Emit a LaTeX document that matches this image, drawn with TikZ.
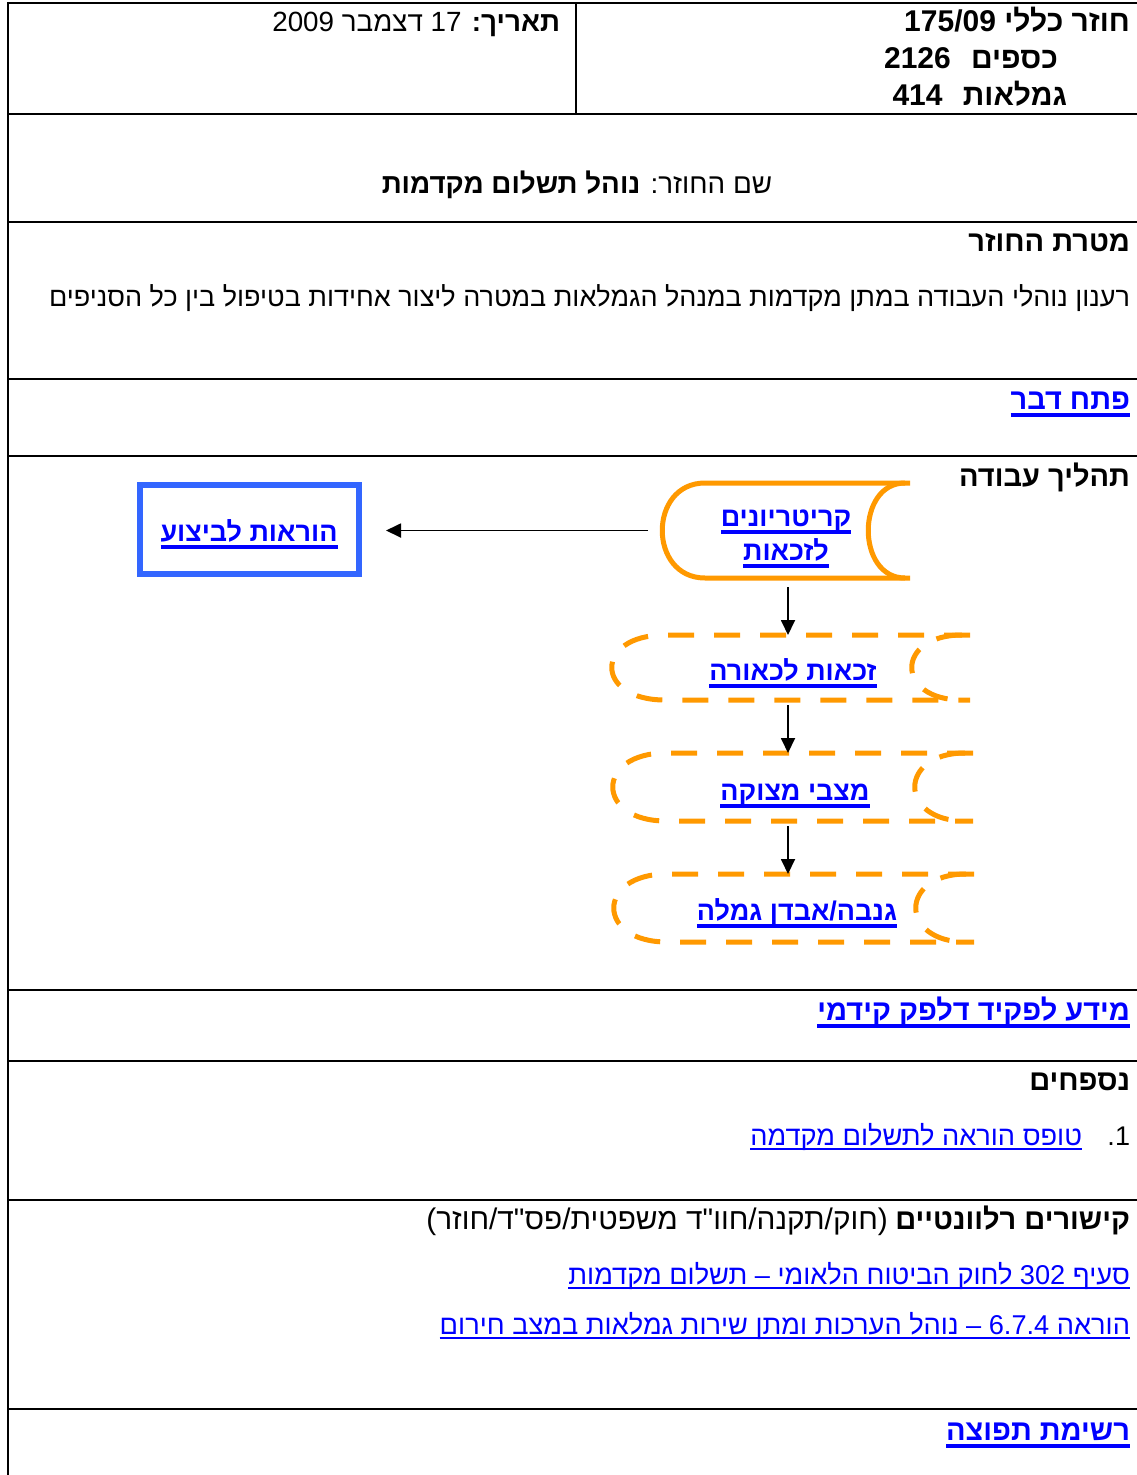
\documentclass[tikz,border=0pt]{standalone}
\usepackage{fontspec}
\setmainfont{Liberation Sans}[Script=Hebrew, Ligatures=TeXOff]
\TeXXeTstate=1
\usetikzlibrary{arrows.meta,calc}
\definecolor{linkblue}{HTML}{0000FF}
\definecolor{flowor}{HTML}{FF9900}
\definecolor{boxblue}{HTML}{3366FF}
% #1 thickness, #2 bottom of rule below baseline, #3 text
\newcommand\ulk[3]{\setbox0=\hbox{#3}\rlap{\rule[-#2]{\wd0}{#1}}\box0}
% #1 node, #2 style, #3 left inset, #4 left ctrl x, #5 right inset, #6 right ctrl x
\newcommand\drawstored[6]{%
  \draw[#2] (#1.north east) -- ($(#1.north west)+(#3,0)$) .. controls ($(#1.north west)+(#4,0)$) and ($(#1.south west)+(#4,0)$) .. ($(#1.south west)+(#3,0)$) -- (#1.south east);
  \draw[#2] ($(#1.north east)+(-#5,0)$) .. controls ($(#1.north east)+(-#6,0)$) and ($(#1.south east)+(-#6,0)$) .. ($(#1.south east)+(-#5,0)$);}
\newcommand\bsz{\fontsize{29}{34}\selectfont\bfseries}
\tikzset{
  tline/.style={line width=2.5pt, black},
  thinline/.style={line width=1.5pt, black},
  tx/.style={inner sep=0pt, outer sep=0pt, font=\fontsize{27}{32}\selectfont},
  tx28/.style={inner sep=0pt, outer sep=0pt, font=\fontsize{27.8}{32}\selectfont},
  txb/.style={tx, font=\bsz},
  hd/.style={tx, font=\fontsize{30}{34}\selectfont\bfseries},
  lk/.style={tx, font=\fontsize{27.2}{32}\selectfont, text=linkblue},
  lkb/.style={txb, text=linkblue},
  flk/.style={tx, font=\fontsize{27}{32}\selectfont\bfseries, text=linkblue},
  shapebox/.style={inner sep=0pt, outer sep=0pt, draw=none},
  solidflow/.style={draw=flowor, line width=5pt},
  dashflow/.style={draw=flowor, line width=5pt, dash pattern=on 26pt off 20pt},
  bluebox/.style={draw=boxblue, line width=6pt, inner sep=0pt},
  arr/.style={-{Triangle[length=15pt,width=14pt]}, line width=1.8pt, black},
}
\begin{document}
\begin{tikzpicture}[x=1pt,y=-1pt]
\useasboundingbox (0,0) rectangle (1137,1475);
\fill[white] (0,0) rectangle (1137,1475);
% table
\foreach \yy in {3,114,222,379,456,990,1061,1200,1409} \draw[tline] (8,\yy) -- (1137,\yy);
\draw[tline] (8,1.75) -- (8,1475);
\draw[thinline] (576,3) -- (576,114);
% header
\node[hd, anchor=base east] (hdr1) at (1130,31) {\beginR חוזר כללי 175/09\endR};
\node[hd, anchor=base east] (hdr2) at (1058,68) {\beginR כספים\hspace{12pt} 2126\endR};
\node[hd, anchor=base east] (hdr3) at (1067,105) {\beginR גמלאות\hspace{12pt} 414\endR};
\node[tx28, anchor=base east] (date) at (560,31) {\beginR{\bfseries תאריך:} 17 דצמבר 2009\endR};
\node[tx28, anchor=base] (title) at (577,193) {\beginR שם החוזר: {\bfseries נוהל תשלום מקדמות}\endR};
% sections
\node[txb, anchor=base east] (goalh) at (1130,251) {\beginR מטרת החוזר\endR};
\node[tx, anchor=base east] (goal) at (1130,306) {\beginR רענון נוהלי העבודה במתן מקדמות במנהל הגמלאות במטרה ליצור אחידות בטיפול בין כל הסניפים\endR};
\node[lkb, anchor=base east] (intro) at (1130,409) {\ulk{3.5pt}{7.5pt}{\beginR פתח דבר\endR}};
\node[txb, anchor=base east] (proch) at (1130,486) {\beginR תהליך עבודה\endR};
% flow chart
\node[shapebox, minimum width=248pt, minimum height=95pt] (crit) at (786,530.5) {};
\node[shapebox, minimum width=358pt, minimum height=65pt] (zl) at (791,667.5) {};
\node[shapebox, minimum width=360pt, minimum height=68pt] (sm) at (793,787) {};
\node[shapebox, minimum width=360pt, minimum height=68pt] (gn) at (794,908) {};
\node[bluebox, minimum width=219pt, minimum height=89pt] (hb) at (249.5,529.5) {};
\drawstored{crit}{solidflow}{43}{-14}{5}{54}
\drawstored{zl}{dashflow}{53}{-18}{8}{75}
\drawstored{sm}{dashflow}{53}{-18}{8}{75}
\drawstored{gn}{dashflow}{53}{-18}{8}{75}
\node[flk, anchor=base] (critt1) at (786,526) {\ulk{3.5pt}{7.5pt}{\beginR קריטריונים\endR}};
\node[flk, anchor=base] (critt2) at (786,560) {\ulk{3.5pt}{7.5pt}{\beginR לזכאות\endR}};
\node[flk, anchor=base] (zlt) at (793,680) {\ulk{3.5pt}{7.5pt}{\beginR זכאות לכאורה\endR}};
\node[flk, anchor=base] (smt) at (795,800) {\ulk{3.5pt}{7.5pt}{\beginR מצבי מצוקה\endR}};
\node[flk, anchor=base] (gnt) at (797,920) {\ulk{3.5pt}{7.5pt}{\beginR גנבה/אבדן גמלה\endR}};
\node[flk, anchor=base] (hbt) at (249,541) {\ulk{3.5pt}{7.5pt}{\beginR הוראות לביצוע\endR}};
\coordinate (hbtip) at ([xshift=24pt]hb.east);
\draw[arr] ([xshift=-14pt]crit.west) -- (hbtip |- crit.west);
\draw[arr] ([shift={(2,9)}]crit.south) -- ([shift={(-3,0)}]zl.north);
\draw[arr] ([shift={(-3,5)}]zl.south) -- ([shift={(-5,0)}]sm.north);
\draw[arr] ([shift={(-5,5)}]sm.south) -- ([shift={(-6,0)}]gn.north);
% lower sections
\node[lkb, anchor=base east] (clerk) at (1130,1020) {\ulk{3.5pt}{7.5pt}{\beginR מידע לפקיד דלפק קידמי\endR}};
\node[txb, anchor=base east] (atth) at (1130,1090) {\beginR נספחים\endR};
\node[tx, anchor=base east] (num1) at (1130,1145) {\beginR 1.\endR};
\node[lk, anchor=base east] (att1) at (1082,1145) {\ulk{2pt}{5pt}{\beginR טופס הוראה לתשלום מקדמה\endR}};
\node[tx, anchor=base east] (relh) at (1130,1229) {\beginR{\bsz קישורים רלוונטיים} {\fontsize{29.8}{34}\selectfont (חוק/תקנה/חוו"ד משפטית/פס"ד/חוזר)}\endR};
\node[lk, anchor=base east] (rel1) at (1130,1284) {\ulk{2pt}{5pt}{\beginR סעיף 302 לחוק הביטוח הלאומי – תשלום מקדמות\endR}};
\node[lk, anchor=base east] (rel2) at (1130,1334) {\ulk{2pt}{5pt}{\beginR הוראה 6.7.4 – נוהל הערכות ומתן שירות גמלאות במצב חירום\endR}};
\node[lkb, anchor=base east] (dist) at (1130,1440) {\ulk{3.5pt}{7.5pt}{\beginR רשימת תפוצה\endR}};
\end{tikzpicture}
\end{document}
